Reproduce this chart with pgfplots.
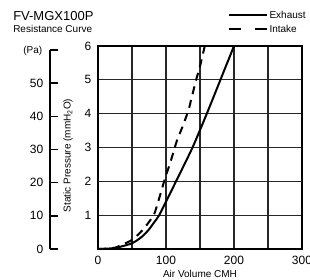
\documentclass[border=0pt]{standalone}
\usepackage{fontspec}
\setmainfont{Liberation Sans}
\usepackage{pgfplots}
\pgfplotsset{compat=1.18}
\begin{document}
\begin{tikzpicture}
\path[use as bounding box] (0,0) rectangle (232.5pt,-209.25pt);
% Pa scale
\begin{axis}[
  scale only axis, width=10pt, height=149.25pt,
  at={(37.5pt,-186.75pt)}, anchor=south west,
  xmin=0, xmax=1, ymin=0, ymax=60,
  axis y line*=left, axis x line=none,
  ytick={0,10,...,60}, yticklabels={0,10,20,30,40,50,},
  tick align=inside, major tick length=6pt,
  tick style={line width=1.1pt, black},
  axis line style={line width=1.1pt},
  tick label style={font=\fontsize{9}{10}\selectfont},
  yticklabel style={xshift=-1.5pt},
]
\end{axis}
% main chart
\begin{axis}[
  scale only axis, width=153pt, height=152.25pt,
  at={(73.5pt,-186.75pt)}, anchor=south west,
  xmin=0, xmax=300, ymin=0, ymax=6,
  xtick={0,50,...,300}, xticklabels={0,,100,,200,,300},
  ytick={0,...,6}, yticklabels={,1,2,3,4,5,6},
  grid=major, grid style={black!85, line width=0.9pt},
  axis line style={line width=1.1pt},
  major tick length=0pt,
  tick label style={font=\fontsize{9}{10}\selectfont},
  /pgf/number format/assume math mode=true,
  xticklabel style={yshift=-1.5pt},
  yticklabel style={xshift=-1.5pt},
  legend style={at={(0.637,1.182)}, anchor=north west, draw=none, fill=none,
    inner sep=0pt, font=\fontsize{7.5}{9}\selectfont, row sep=3pt,
    nodes={inner sep=1pt, text height=5.5pt, text depth=0.5pt}},
  legend cell align=left,
  legend image code/.code={\draw[#1] (0pt,0pt) -- (28.5pt,0pt);},
]
\addplot[black, line width=1.5pt, smooth, tension=0.4, forget plot] coordinates {
  (0,0) (25,0.03) (50,0.17) (65,0.37) (75,0.58) (83,0.8) (90,1.0) (100,1.4)
  (116,2.05) (139,3.0) (160,4.0) (180,5.0) (200,6.0)};
\addplot[black, line width=1.5pt, smooth, tension=0.4, dash pattern=on 6pt off 4.5pt, forget plot] coordinates {
  (0,0) (25,0.04) (50,0.27) (65,0.55) (75,0.8) (83,1.05) (90,1.5) (98,2.05)
  (107,2.6) (116,3.2) (124,3.6) (133,4.1) (138,4.5) (145,5.05) (150,5.4) (157,6.0)};
\addlegendimage{black, line width=1.5pt}
\addlegendentry{Exhaust}
\addlegendimage{black, line width=1.5pt, dash pattern=on 9pt off 10.5pt}
\addlegendentry{Intake}
\end{axis}
\node[anchor=base west, font=\fontsize{9.75}{11}\selectfont, inner sep=0pt] at (9.75pt,-15pt) {FV-MGX100P};
\node[anchor=base west, font=\fontsize{7.5}{9}\selectfont, inner sep=0pt] at (9.75pt,-24.5pt) {Resistance Curve};
\node[anchor=base west, font=\fontsize{7.5}{9}\selectfont, inner sep=0pt] at (17.25pt,-39.75pt) {(Pa)};
\node[rotate=90, anchor=center, font=\fontsize{7.5}{9}\selectfont, inner sep=0pt] at (51pt,-116.6pt) {Static Pressure (mmH\textsubscript{2}O)};
\node[anchor=base, font=\fontsize{7.5}{9}\selectfont, inner sep=0pt] at (150pt,-207.75pt) {Air Volume CMH};
\end{tikzpicture}
\end{document}
